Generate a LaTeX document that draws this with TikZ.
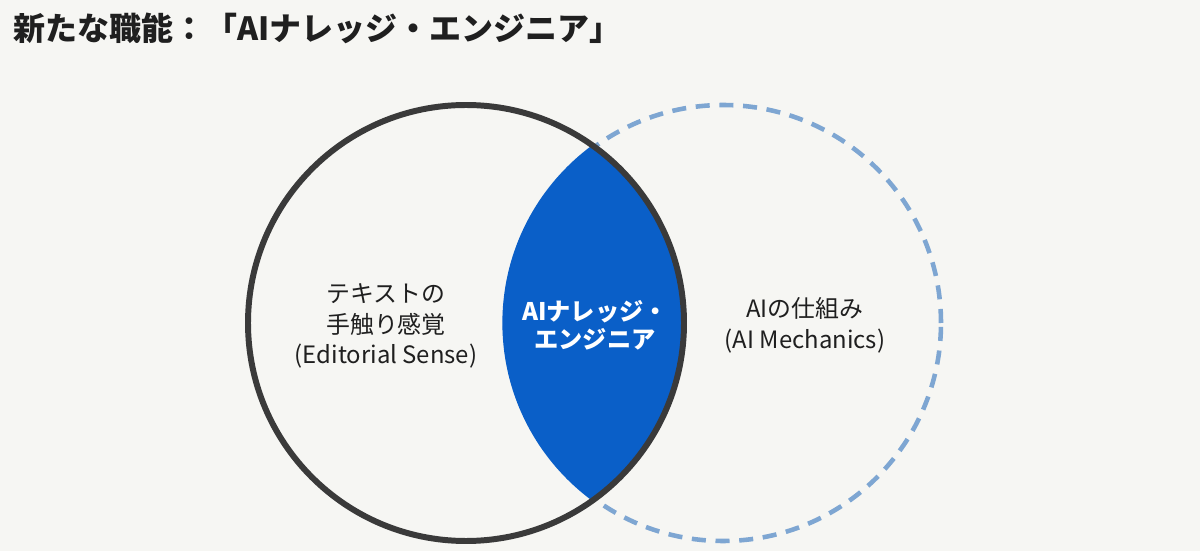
\documentclass[tikz,border=0pt]{standalone}
\usepackage{fontspec}
\setmainfont{Noto Sans CJK JP}
\usetikzlibrary{positioning,calc}
\definecolor{paper}{HTML}{F6F6F3}
\definecolor{ink}{HTML}{3A3A3A}
\definecolor{engblue}{HTML}{0A5FC8}
\definecolor{mechblue}{HTML}{7EA6D2}
\tikzstyle{sensering}=[draw=ink,line width=3.4pt]
\tikzstyle{mechring}=[draw=mechblue,line width=2.6pt,dash pattern=on 8pt off 5.5pt]
\tikzstyle{vennlabel}=[align=center,text=black!88,font=\fontsize{13.6}{17.5}\selectfont]
\tikzstyle{lenslabel}=[align=center,text=white,font=\bfseries\fontsize{13.8}{16}\selectfont]
\newcommand{\drawVenn}[2]{
\pgfmathsetmacro{\radius}{#1}
\pgfmathsetmacro{\gap}{#2}
\coordinate (senseC) at (466,228);
\coordinate (mechC) at ($(senseC)+(\gap,0)$);
\draw[mechring] (mechC) circle (\radius);
  % the overlap
  \begin{scope}
  \clip (senseC) circle (\radius);
  \filldraw[engblue,line width=3pt] (mechC) circle (\radius);
  \end{scope}
\draw[sensering] (senseC) circle (\radius);
}

\begin{document}
\begin{tikzpicture}[x=0.02cm,y=0.02cm]
	\fill[paper] (0,0) rectangle (1200,551);
	\useasboundingbox (0,0) rectangle (1200,551);
	\node[anchor=west,text=black!88,font=\bfseries\fontsize{18.2}{20}\selectfont] (title) at (7,523) {新たな職能：「AIナレッジ・エンジニア」};
	\begin{scope}
	\drawVenn{218}{257}
	\node[vennlabel] (sense) at (386,225) {テキストの\\手触り感覚\\(Editorial Sense)};
	\node[lenslabel] (engineer) at (595,226) {AIナレッジ・\\エンジニア};
	\node[vennlabel] (mech) at (805,226) {AIの仕組み\\(AI Mechanics)};
	%\draw (sense) -- (engineer);
	\end{scope}
\end{tikzpicture}
\end{document}
